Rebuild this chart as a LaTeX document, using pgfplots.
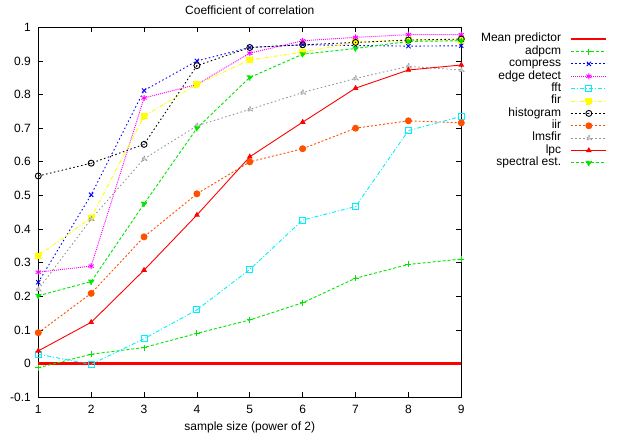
\documentclass[border=0pt]{standalone}
\usepackage{fontspec}
\setmainfont{Liberation Sans}
\usepackage{pgfplots}
\pgfplotsset{compat=1.18}
\definecolor{gpgreen}{RGB}{0,230,0}
\definecolor{gpblue}{RGB}{0,0,255}
\definecolor{gpmag}{RGB}{255,0,255}
\definecolor{gpcyan}{RGB}{0,240,255}
\definecolor{gpyellow}{RGB}{255,255,0}
\definecolor{gporange}{RGB}{255,80,0}
\definecolor{gpgray}{RGB}{150,150,150}
\definecolor{gpred}{RGB}{255,0,0}
\pgfdeclareplotmark{odot}{%
  \pgfpathcircle{\pgfpointorigin}{\pgfplotmarksize}\pgfusepathqstroke
  \pgfpathcircle{\pgfpointorigin}{0.7pt}\pgfusepathqfill}
\begin{document}
\fontsize{12bp}{14bp}\selectfont
\begin{tikzpicture}[font=\fontsize{12bp}{14bp}\selectfont]
\begin{axis}[
  scale only axis, width=423bp, height=370bp,
  xmin=1, xmax=9, ymin=-0.1, ymax=1,
  clip=false,
  xtick={1,2,3,4,5,6,7,8,9},
  xticklabels={1,2,3,4,5,6,7,8,9},
  ytick={-0.1,0,0.1,0.2,0.3,0.4,0.5,0.6,0.7,0.8,0.9,1},
  yticklabels={-0.1,0,0.1,0.2,0.3,0.4,0.5,0.6,0.7,0.8,0.9,1},
  /pgf/number format/assume math mode=true,
  tick align=inside, major tick length=5bp,
  tick style={black, line width=0.8bp},
  axis line style={black, line width=0.9bp},
  xticklabel style={anchor=base, yshift=-16.2bp, inner sep=0pt},
  yticklabel style={anchor=east, xshift=-3.3bp},
  title={Coefficient of correlation},
  title style={at={(axis description cs:0.5,1)}, anchor=base, yshift=6.8bp, inner sep=0pt},
  xlabel={sample size (power of 2)},
  xlabel style={at={(axis description cs:0.5,0)}, anchor=base, yshift=-33bp, inner sep=0pt},
  legend plot pos=right,
  legend cell align=right,
  legend style={at={(1,1)}, anchor=north east, xshift=146.5bp, yshift=-5.5bp,
    draw=none, fill=none, inner sep=0pt, row sep=0pt, column sep=9bp,
    nodes={inner sep=0pt, text height=9bp, text depth=3.37bp}},
  legend image code/.code={\draw[mark repeat=2,mark phase=2,#1] plot coordinates {(0bp,0bp) (17.5bp,0bp) (35bp,0bp)};},
  every axis plot/.append style={line width=0.9bp, mark size=3bp, mark options={solid}},
]
\addplot[gpred, line width=2.5bp, no marks] coordinates {(1,0) (2,0) (3,0) (4,0) (5,0) (6,0) (7,0) (8,0) (9,0)};
\addlegendentry{Mean predictor}
\addplot[gpgreen, dash pattern=on 3bp off 2bp, mark=+] coordinates {(1,-0.012) (2,0.028) (3,0.048) (4,0.09) (5,0.13) (6,0.181) (7,0.254) (8,0.295) (9,0.311)};
\addlegendentry{adpcm}
\addplot[gpblue, dash pattern=on 1.5bp off 2.5bp, mark=x] coordinates {(1,0.242) (2,0.502) (3,0.812) (4,0.90) (5,0.94) (6,0.948) (7,0.946) (8,0.944) (9,0.945)};
\addlegendentry{compress}
\addplot[gpmag, dash pattern=on 1bp off 1bp, mark=asterisk] coordinates {(1,0.272) (2,0.29) (3,0.79) (4,0.83) (5,0.923) (6,0.96) (7,0.97) (8,0.978) (9,0.978)};
\addlegendentry{edge detect}
\addplot[gpcyan, dash pattern=on 4bp off 2bp on 1bp off 2bp, mark=square] coordinates {(1,0.028) (2,-0.002) (3,0.074) (4,0.16) (5,0.28) (6,0.427) (7,0.467) (8,0.693) (9,0.735)};
\addlegendentry{fft}
\addplot[gpyellow, dash pattern=on 4bp off 2bp on 1bp off 2bp, mark=square*, mark options={fill=gpyellow}] coordinates {(1,0.321) (2,0.434) (3,0.736) (4,0.83) (5,0.903) (6,0.926) (7,0.955) (8,0.962) (9,0.962)};
\addlegendentry{fir}
\addplot[black, dash pattern=on 1.5bp off 2.5bp, mark=odot] coordinates {(1,0.558) (2,0.596) (3,0.652) (4,0.886) (5,0.94) (6,0.948) (7,0.955) (8,0.962) (9,0.965)};
\addlegendentry{histogram}
\addplot[gporange, dash pattern=on 2bp off 2bp, mark=*] coordinates {(1,0.092) (2,0.209) (3,0.377) (4,0.505) (5,0.60) (6,0.639) (7,0.70) (8,0.722) (9,0.716)};
\addlegendentry{iir}
\addplot[gpgray, dash pattern=on 1.5bp off 2.5bp, mark=triangle*, mark options={fill=gpgray!50}] coordinates {(1,0.221) (2,0.43) (3,0.609) (4,0.707) (5,0.756) (6,0.806) (7,0.848) (8,0.884) (9,0.873)};
\addlegendentry{lmsfir}
\addplot[gpred, solid, mark=triangle*, mark size=2.5bp] coordinates {(1,0.038) (2,0.123) (3,0.278) (4,0.442) (5,0.615) (6,0.718) (7,0.819) (8,0.873) (9,0.888)};
\addlegendentry{lpc}
\addplot[gpgreen, dash pattern=on 3bp off 2bp, mark=triangle*, mark options={rotate=180, fill=gpgreen}] coordinates {(1,0.202) (2,0.244) (3,0.475) (4,0.70) (5,0.851) (6,0.92) (7,0.937) (8,0.958) (9,0.96)};
\addlegendentry{spectral est.}
\end{axis}
\pgfresetboundingbox
\path (current axis.south west) ++(-38.3bp,-43.7bp) rectangle ++(625bp,441bp);
\end{tikzpicture}
\end{document}
